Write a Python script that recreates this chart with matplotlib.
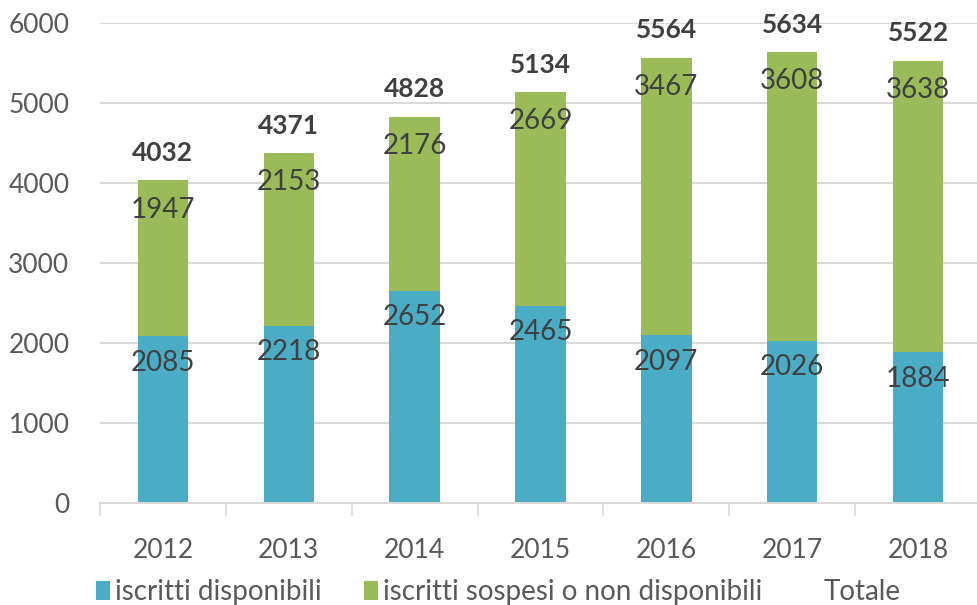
import numpy as np
import matplotlib
matplotlib.use("Agg")
import matplotlib.pyplot as plt
from matplotlib.patches import Patch
from matplotlib.lines import Line2D

years = ["2012", "2013", "2014", "2015", "2016", "2017", "2018"]
disponibili = [2085, 2218, 2652, 2465, 2097, 2026, 1884]
sospesi = [1947, 2153, 2176, 2669, 3467, 3608, 3638]
totale = [4032, 4371, 4828, 5134, 5564, 5634, 5522]

BLUE = "#4BACC6"
GREEN = "#9BBB59"
TEXT = "#595959"
LABEL = "#404040"

plt.rcParams["font.family"] = ["Lato", "DejaVu Sans"]

fig = plt.figure(figsize=(9.78, 6.05), dpi=100)
ax = fig.add_axes([100 / 978, 102 / 605, 881 / 978, 480 / 605])

x = np.arange(len(years))
ax.bar(x, disponibili, width=0.4, color=BLUE, zorder=2)
ax.bar(x, sospesi, width=0.4, bottom=disponibili, color=GREEN, zorder=2)
ax.plot(x, totale, linestyle="none", label="Totale")

for i in range(len(years)):
    ax.annotate(str(disponibili[i]), (x[i], disponibili[i]), xytext=(0, -19),
                textcoords="offset points", ha="center", va="center",
                fontsize=20, color=LABEL, zorder=3)
    ax.annotate(str(sospesi[i]), (x[i], totale[i]), xytext=(0, -21),
                textcoords="offset points", ha="center", va="center",
                fontsize=20, color=LABEL, zorder=3)
    ax.annotate(str(totale[i]), (x[i], totale[i]), xytext=(0, 20),
                textcoords="offset points", ha="center", va="center",
                fontsize=19, fontweight="bold", color=LABEL, zorder=3)

ax.set_ylim(0, 6000)
ax.set_xlim(-0.5, len(years) - 0.5)
ax.set_yticks(range(0, 6001, 1000))
ax.yaxis.grid(True, color="#D9D9D9", linewidth=1.5, zorder=0)
ax.set_axisbelow(True)

ax.set_xticks(x)
ax.set_xticklabels(years)
ax.set_xticks(np.arange(-0.5, len(years), 1), minor=True)
ax.tick_params(axis="x", which="major", length=0, pad=25, labelsize=19,
               labelcolor=TEXT)
ax.tick_params(axis="x", which="minor", length=9, color="#D9D9D9", width=1.2)
ax.tick_params(axis="y", length=0, pad=22, labelsize=19, labelcolor=TEXT)

for side in ["left", "right", "top"]:
    ax.spines[side].set_visible(False)
ax.spines["bottom"].set_color("#D9D9D9")
ax.spines["bottom"].set_linewidth(1.5)

handles = [
    Patch(facecolor=BLUE, label="iscritti disponibili"),
    Patch(facecolor=GREEN, label="iscritti sospesi o non disponibili"),
    Line2D([], [], linestyle="none", label="Totale"),
]
fig.legend(handles=handles, loc="center left", bbox_to_anchor=(96 / 978, 13 / 605),
           ncol=3, frameon=False, fontsize=20, labelcolor=TEXT,
           handlelength=0.5, handleheight=0.7, handletextpad=0.2,
           columnspacing=1.5, borderaxespad=0, borderpad=0)

fig.savefig("out.png", dpi=100)
